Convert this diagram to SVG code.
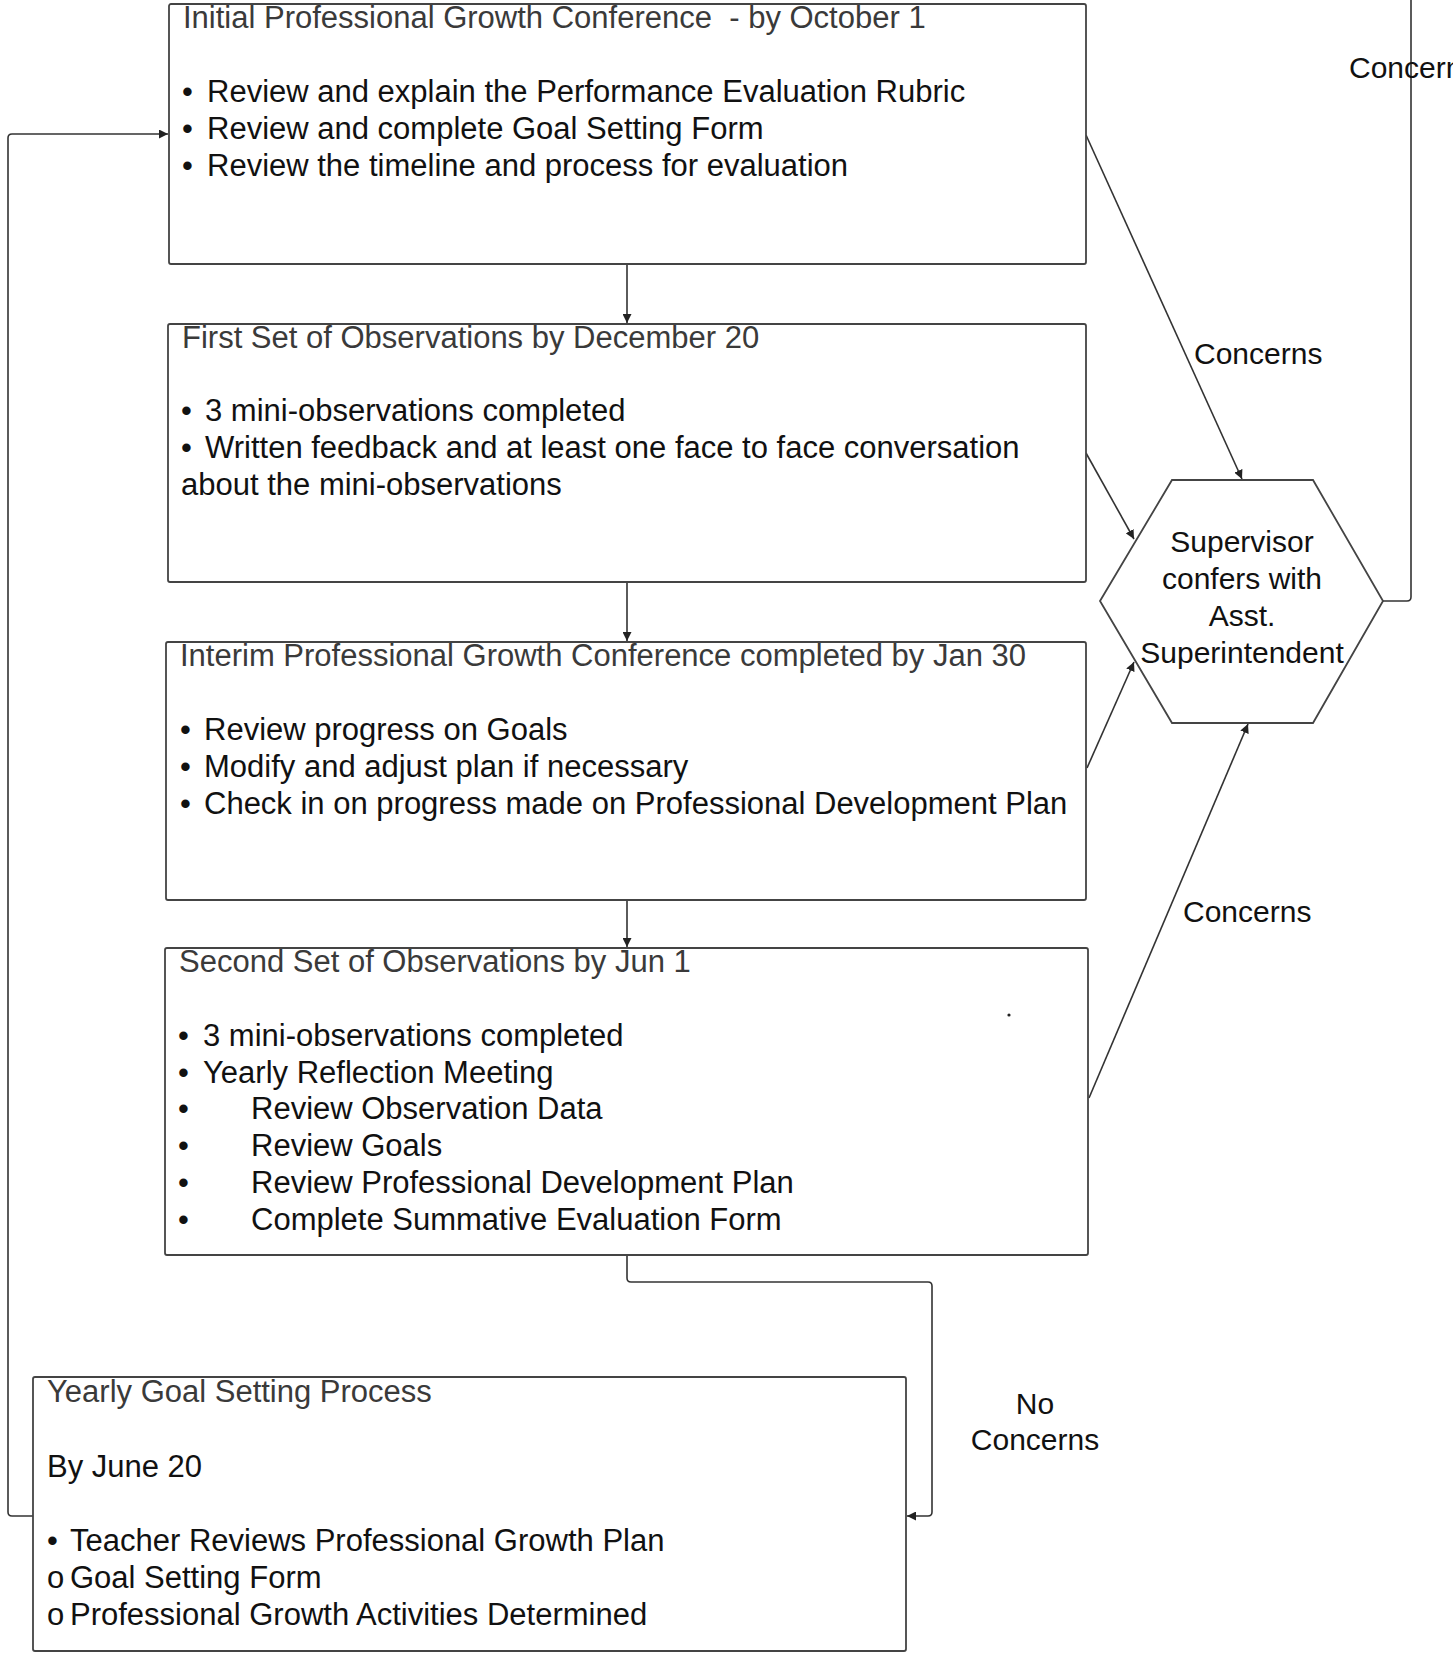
<svg xmlns="http://www.w3.org/2000/svg" width="1453" height="1655" viewBox="0 0 1453 1655">
<style>
.box{fill:#fff;stroke:#444;stroke-width:1.8}
.t{font-family:"Liberation Sans",Arial,sans-serif;font-size:31px;fill:#111}
.title{fill:#3a3a3a}
.lbl{font-family:"Liberation Sans",Arial,sans-serif;font-size:30px;fill:#111}
.c{fill:none;stroke:#333;stroke-width:1.6}
</style>
<defs>
<marker id="ah" viewBox="0 0 10 10" refX="10" refY="5" markerWidth="9" markerHeight="9" markerUnits="userSpaceOnUse" orient="auto">
<path d="M0,0 L10,5 L0,10 z" fill="#222"/>
</marker>
</defs>
<rect width="1453" height="1655" fill="#fff"/>
<g id="connectors">
<path class="c" d="M627,264 V323" marker-end="url(#ah)"/>
<path class="c" d="M627,582 V641" marker-end="url(#ah)"/>
<path class="c" d="M627,900 V947" marker-end="url(#ah)"/>
<path class="c" d="M627,1255 V1278 Q627,1282 631,1282 H928 Q932,1282 932,1286 V1512 Q932,1516 928,1516 H907" marker-end="url(#ah)"/>
<path class="c" d="M33,1516 H12 Q8,1516 8,1512 V138 Q8,134 12,134 H168" marker-end="url(#ah)"/>
<path class="c" d="M1086,135 L1242,479" marker-end="url(#ah)"/>
<path class="c" d="M1086,453 L1134,539" marker-end="url(#ah)"/>
<path class="c" d="M1087,768 L1134,662" marker-end="url(#ah)"/>
<path class="c" d="M1089,1098 L1248,724" marker-end="url(#ah)"/>
<path class="c" d="M1383,601 H1407 Q1411,601 1411,597 V0"/>
<text class="lbl" x="1194" y="364">Concerns</text>
<text class="lbl" x="1183" y="922">Concerns</text>
<text class="lbl" x="1349" y="78">Concerns</text>
<text class="lbl" x="1035" y="1414" text-anchor="middle">No</text>
<text class="lbl" x="1035" y="1450" text-anchor="middle">Concerns</text>
</g>
<g id="box1">
<rect class="box" x="169" y="4" width="917" height="260" rx="2"/>
<text class="t title" x="183" y="28">Initial Professional Growth Conference &#160;- by October 1</text>
<text class="t" y="102"><tspan x="182">•</tspan><tspan x="207">Review and explain the Performance Evaluation Rubric</tspan></text>
<text class="t" y="139"><tspan x="182">•</tspan><tspan x="207">Review and complete Goal Setting Form</tspan></text>
<text class="t" y="176"><tspan x="182">•</tspan><tspan x="207">Review the timeline and process for evaluation</tspan></text>
</g>
<g id="box2">
<rect class="box" x="168" y="324" width="918" height="258" rx="2"/>
<text class="t title" x="182" y="348">First Set of Observations by December 20</text>
<text class="t" y="421"><tspan x="181">•</tspan><tspan x="205">3 mini-observations completed</tspan></text>
<text class="t" y="458"><tspan x="181">•</tspan><tspan x="205">Written feedback and at least one face to face conversation</tspan></text>
<text class="t" x="181" y="495">about the mini-observations</text>
</g>
<g id="box3">
<rect class="box" x="166" y="642" width="920" height="258" rx="2"/>
<text class="t title" x="180" y="666">Interim Professional Growth Conference completed by Jan 30</text>
<text class="t" y="740"><tspan x="180">•</tspan><tspan x="204">Review progress on Goals</tspan></text>
<text class="t" y="777"><tspan x="180">•</tspan><tspan x="204">Modify and adjust plan if necessary</tspan></text>
<text class="t" y="814"><tspan x="180">•</tspan><tspan x="204">Check in on progress made on Professional Development Plan</tspan></text>
</g>
<g id="box4">
<rect class="box" x="165" y="948" width="923" height="307" rx="2"/>
<text class="t title" x="179" y="972">Second Set of Observations by Jun 1</text>
<text class="t" y="1046"><tspan x="178">•</tspan><tspan x="203">3 mini-observations completed</tspan></text>
<text class="t" y="1083"><tspan x="178">•</tspan><tspan x="203">Yearly Reflection Meeting</tspan></text>
<text class="t" y="1119"><tspan x="178">•</tspan><tspan x="251">Review Observation Data</tspan></text>
<text class="t" y="1156"><tspan x="178">•</tspan><tspan x="251">Review Goals</tspan></text>
<text class="t" y="1193"><tspan x="178">•</tspan><tspan x="251">Review Professional Development Plan</tspan></text>
<text class="t" y="1230"><tspan x="178">•</tspan><tspan x="251">Complete Summative Evaluation Form</tspan></text>
<circle cx="1009" cy="1015" r="1.6" fill="#222"/>
</g>
<g id="box5">
<rect class="box" x="33" y="1377" width="873" height="274" rx="2"/>
<text class="t title" x="47" y="1402">Yearly Goal Setting Process</text>
<text class="t" x="47" y="1477">By June 20</text>
<text class="t" y="1551"><tspan x="47">•</tspan><tspan x="70">Teacher Reviews Professional Growth Plan</tspan></text>
<text class="t" y="1588"><tspan x="47">o</tspan><tspan x="70">Goal Setting Form</tspan></text>
<text class="t" y="1625"><tspan x="47">o</tspan><tspan x="70">Professional Growth Activities Determined</tspan></text>
</g>
<g id="hexagon">
<polygon class="box" points="1100,601 1172,480 1313,480 1383,601 1313,723 1172,723"/>
<text class="lbl" x="1242" y="552" text-anchor="middle">Supervisor</text>
<text class="lbl" x="1242" y="589" text-anchor="middle">confers with</text>
<text class="lbl" x="1242" y="626" text-anchor="middle">Asst.</text>
<text class="lbl" x="1242" y="663" text-anchor="middle">Superintendent</text>
</g>
</svg>
